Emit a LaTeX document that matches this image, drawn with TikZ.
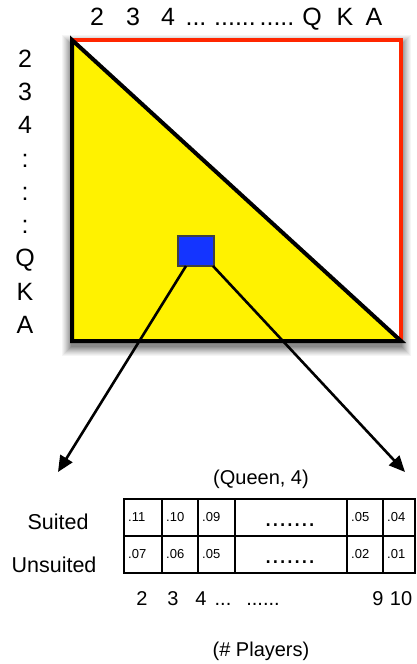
\documentclass[tikz,border=0pt]{standalone}
\usepackage{fontspec}
\setmainfont{Liberation Sans}
\usetikzlibrary{arrows.meta}
\definecolor{boardred}{RGB}{255,38,0}
\definecolor{cellblue}{RGB}{20,52,255}
\begin{document}
\begin{tikzpicture}[x=1pt,y=-1pt,
  big/.style={font=\fontsize{25}{25}\selectfont, inner sep=0, anchor=base},
  mid/.style={font=\fontsize{20}{20}\selectfont, inner sep=0},
  side/.style={font=\fontsize{21.5}{22}\selectfont, inner sep=0},
  val/.style={font=\fontsize{13}{13}\selectfont, inner sep=0, anchor=west},
  dots/.style={font=\fontsize{26}{26}\selectfont, inner sep=0, anchor=base},
  cellbox/.style={draw, line width=2, minimum width=#1, minimum height=37, inner sep=0, outer sep=0, anchor=north west},
  arr/.style={line width=2.6, -{Triangle[length=16,width=14]}},
]
\useasboundingbox (0,0) rectangle (417,664);

% board corners
\coordinate (bNW) at (72,40);
\coordinate (bSW) at (72,341);
\coordinate (bSE) at (401,341);

% blurred shadow, solid grey steps
\foreach \i/\g in {10/4,9/8,8/12,7/16,6/21,5/26,4/31,3/36,2/41,1/46}
  \fill[black!\g] ([shift={(-\i,5-\i)}]bNW) rectangle ([shift={(\i,5+\i)}]bSE);
\fill[white] (bNW) rectangle (bSE);
\draw[boardred, line width=4.5] (bNW) rectangle (bSE);
\draw[fill=yellow, line width=4] (bNW) -- (bSW) -- (bSE) -- cycle;

\node[draw=black!75, fill=cellblue, line width=1.2, minimum width=36, minimum height=30, inner sep=0, outer sep=0] (blue) at (196,251) {};

% top labels
\node[big] (t2) at (97,25) {2};
\node[big] (t3) at (133,25) {3};
\node[big] (t4) at (168,25) {4};
\node[big] (td1) at (196,25) {...};
\node[big] (td2) at (235,25) {......};
\node[big] (td3) at (277,25) {.....};
\node[big] (tQ) at (312,25) {Q};
\node[big] (tK) at (345,25) {K};
\node[big] (tA) at (374,25) {A};

% left labels
\node[big] (l2) at (25,67) {2};
\node[big] (l3) at (25,100) {3};
\node[big] (l4) at (25,133) {4};
\node[big] (lc1) at (25,167) {:};
\node[big] (lc2) at (25,200) {:};
\node[big] (lc3) at (25,233) {:};
\node[big] (lQ) at (25,266) {Q};
\node[big] (lK) at (25,300) {K};
\node[big] (lA) at (25,333) {A};

% arrows
\coordinate (tipL) at (58,472);
\coordinate (tipR) at (405,472);
\draw[arr] ([xshift=8]blue.south west) -- (tipL);
\draw[arr] ([xshift=-1]blue.south east) -- (tipR);

\node[mid] (qlabel) at (261,479) {(Queen, 4)};

% table
\node[cellbox=38] (a1) at (124,499) {};
\node[cellbox=36] (a2) at (162,499) {};
\node[cellbox=37] (a3) at (198,499) {};
\node[cellbox=112] (a4) at (235,499) {};
\node[cellbox=36] (a5) at (347,499) {};
\node[cellbox=32] (a6) at (383,499) {};
\node[cellbox=38] (b1) at (124,536) {};
\node[cellbox=36] (b2) at (162,536) {};
\node[cellbox=37] (b3) at (198,536) {};
\node[cellbox=112] (b4) at (235,536) {};
\node[cellbox=36] (b5) at (347,536) {};
\node[cellbox=32] (b6) at (383,536) {};

\node[val] (va1) at ([shift={(4,18)}]a1.north west) {.11};
\node[val] (va2) at ([shift={(4,18)}]a2.north west) {.10};
\node[val] (va3) at ([shift={(4,18)}]a3.north west) {.09};
\node[val] (va5) at ([shift={(4,18)}]a5.north west) {.05};
\node[val] (va6) at ([shift={(4,18)}]a6.north west) {.04};
\node[val] (vb1) at ([shift={(4,18)}]b1.north west) {.07};
\node[val] (vb2) at ([shift={(4,18)}]b2.north west) {.06};
\node[val] (vb3) at ([shift={(4,18)}]b3.north west) {.05};
\node[val] (vb5) at ([shift={(4,18)}]b5.north west) {.02};
\node[val] (vb6) at ([shift={(4,18)}]b6.north west) {.01};
\node[dots] (da4) at (290,526) {.......};
\node[dots] (db4) at (290,563) {.......};

\node[side] (suited) at (58,522) {Suited};
\node[side] (unsuited) at (54,565) {Unsuited};

% bottom labels
\node[mid, anchor=base] (n2) at (142,605) {2};
\node[mid, anchor=base] (n3) at (173,605) {3};
\node[mid, anchor=base] (n4) at (201,605) {4};
\node[mid, anchor=base] (nd1) at (223,605) {...};
\node[mid, anchor=base] (nd2) at (263,605) {......};
\node[mid, anchor=base] (n9) at (378,605) {9};
\node[mid, anchor=base] (n10) at (401,605) {10};

\node[mid] (players) at (261,651) {(\# Players)};
\end{tikzpicture}
\end{document}
